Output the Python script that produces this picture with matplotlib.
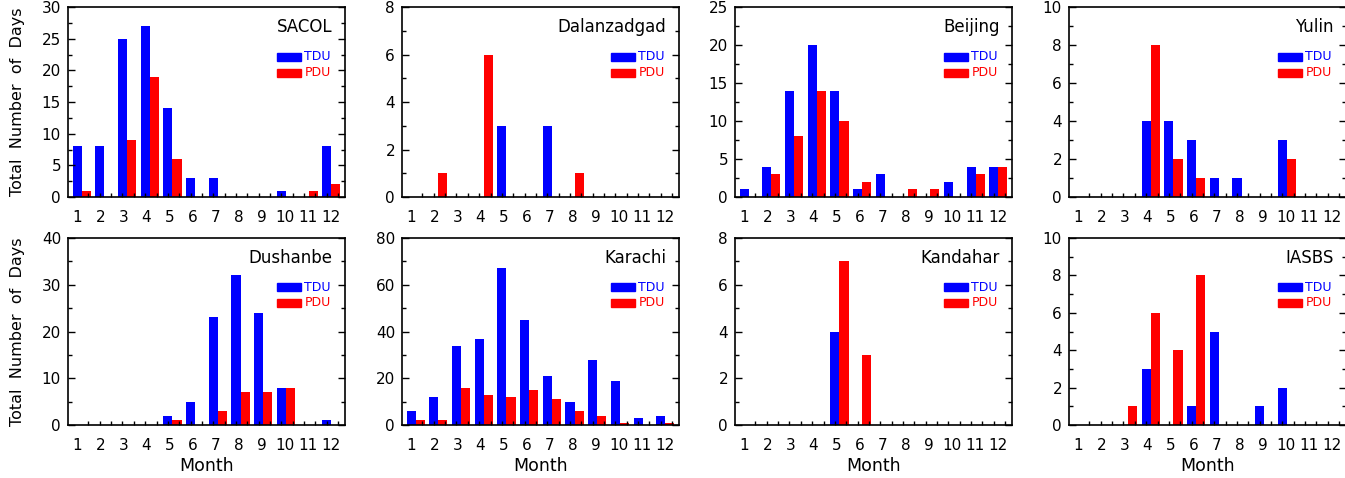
import numpy as np
import matplotlib
matplotlib.use('Agg')
import matplotlib.pyplot as plt
from matplotlib.patches import Rectangle
from matplotlib.ticker import MultipleLocator

plt.rcParams['font.family'] = ['DejaVu Sans']

# data (days per month)
months = np.arange(1, 13)
sites = ['SACOL', 'Dalanzadgad', 'Beijing', 'Yulin',
         'Dushanbe', 'Karachi', 'Kandahar', 'IASBS']
tdu = {
    'SACOL':       [8, 8, 25, 27, 14, 3, 3, 0, 0, 1, 0, 8],
    'Dalanzadgad': [0, 0, 0, 0, 3, 0, 3, 0, 0, 0, 0, 0],
    'Beijing':     [1, 4, 14, 20, 14, 1, 3, 0, 0, 2, 4, 4],
    'Yulin':       [0, 0, 0, 4, 4, 3, 1, 1, 0, 3, 0, 0],
    'Dushanbe':    [0, 0, 0, 0, 2, 5, 23, 32, 24, 8, 0, 1],
    'Karachi':     [6, 12, 34, 37, 67, 45, 21, 10, 28, 19, 3, 4],
    'Kandahar':    [0, 0, 0, 0, 4, 0, 0, 0, 0, 0, 0, 0],
    'IASBS':       [0, 0, 0, 3, 0, 1, 5, 0, 1, 2, 0, 0],
}
pdu = {
    'SACOL':       [1, 0, 9, 19, 6, 0, 0, 0, 0, 0, 1, 2],
    'Dalanzadgad': [0, 1, 0, 6, 0, 0, 0, 1, 0, 0, 0, 0],
    'Beijing':     [0, 3, 8, 14, 10, 2, 0, 1, 1, 0, 3, 4],
    'Yulin':       [0, 0, 0, 8, 2, 1, 0, 0, 0, 2, 0, 0],
    'Dushanbe':    [0, 0, 0, 0, 1, 0, 3, 7, 7, 8, 0, 0],
    'Karachi':     [2, 2, 16, 13, 12, 15, 11, 6, 4, 1, 0, 1],
    'Kandahar':    [0, 0, 0, 0, 7, 3, 0, 0, 0, 0, 0, 0],
    'IASBS':       [0, 0, 1, 6, 4, 8, 0, 0, 0, 0, 0, 0],
}
ymax = [30, 8, 25, 10, 40, 80, 8, 10]
ystep = [5, 2, 5, 2, 10, 20, 2, 2]

W, H = 1345, 478
fig = plt.figure(figsize=(W / 100, H / 100), dpi=100)

lefts = [68, 402, 735, 1069]
rows = [(7, 197), (238, 425)]
aw = 277
bw = 0.4
# month labels drift a little to the right of the bars in the original
label_pos = np.linspace(1, 12.2, 12)

for k, site in enumerate(sites):
    r, c = divmod(k, 4)
    top, bot = rows[r]
    ax = fig.add_axes([lefts[c] / W, 1 - bot / H, aw / W, (bot - top) / H])
    ax.bar(months, tdu[site], width=bw, color='blue', align='center')
    ax.bar(months + bw, pdu[site], width=bw, color='red', align='center')
    ax.set_xlim(0.6, 12.8)
    ax.set_ylim(0, ymax[k])
    ax.set_xticks(label_pos)
    ax.set_xticklabels([str(m) for m in months])
    ax.xaxis.set_minor_locator(MultipleLocator(0.5))
    ax.yaxis.set_major_locator(MultipleLocator(ystep[k]))
    ax.yaxis.set_minor_locator(MultipleLocator(ystep[k] / 2))
    ax.tick_params(axis='x', which='major', direction='in', length=0,
                   pad=9, top=False, labelsize=11)
    ax.tick_params(axis='x', which='minor', direction='in', length=3,
                   width=1, top=False)
    ax.tick_params(axis='y', which='major', direction='in', length=5,
                   width=1, right=True, pad=5, labelsize=11)
    ax.tick_params(axis='y', which='minor', direction='in', length=3,
                   width=1, right=True)
    for s in ax.spines.values():
        s.set_linewidth(1.2)

    ax.text(0.955, 0.895, site, transform=ax.transAxes, ha='right',
            va='center', fontsize=12)
    for j, (lab, col) in enumerate([('TDU', 'blue'), ('PDU', 'red')]):
        yy = 0.737 - j * 0.084
        ax.add_patch(Rectangle((0.755, yy - 0.021), 0.085, 0.042,
                               transform=ax.transAxes, color=col,
                               clip_on=False))
        ax.text(0.853, yy, lab, transform=ax.transAxes, ha='left',
                va='center', fontsize=9, color=col)

    if c == 0:
        ax.set_ylabel('Total  Number  of  Days', fontsize=11.5, labelpad=12)
    if r == 1:
        ax.set_xlabel('Month', fontsize=12.5, labelpad=3)

fig.savefig('out.png', dpi=100)
